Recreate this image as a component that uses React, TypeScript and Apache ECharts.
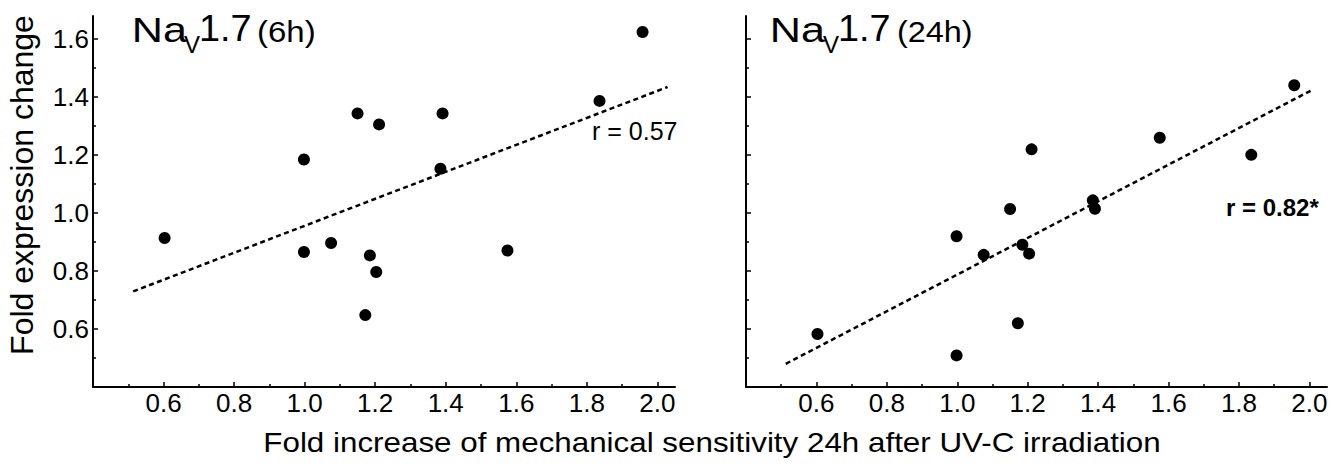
import React, { useEffect, useRef } from "react";
import * as echarts from "echarts";

// ---- data ----
const mechX = [0.603, 0.998, 0.998, 1.075, 1.15, 1.172, 1.185, 1.203, 1.211, 1.385, 1.391, 1.575, 1.836, 1.958];
const expr6h = [0.914, 1.185, 0.866, 0.897, 1.344, 0.648, 0.854, 0.797, 1.306, 1.153, 1.344, 0.871, 1.387, 1.625];
const mechX24 = [0.603, 0.998, 0.998, 1.075, 1.15, 1.172, 1.185, 1.204, 1.211, 1.385, 1.391, 1.575, 1.835, 1.957];
const expr24h = [0.583, 0.92, 0.509, 0.856, 1.014, 0.62, 0.891, 0.86, 1.22, 1.044, 1.015, 1.26, 1.201, 1.441];
const fit6hX = [0.514, 2.029];
const fit6hY = [0.73, 1.435];
const fit24hX = [0.513, 2.008];
const fit24hY = [0.48, 1.425];
const xMajorTicks = [0.4, 0.6, 0.8, 1.0, 1.2, 1.4, 1.6, 1.8, 2.0];
const xMinorTicks = [0.5, 0.7, 0.9, 1.1, 1.3, 1.5, 1.7, 1.9];
const xTickLabels = [0.6, 0.8, 1.0, 1.2, 1.4, 1.6, 1.8, 2.0];
const yMajorTicks = [0.4, 0.6, 0.8, 1.0, 1.2, 1.4, 1.6];
const yMinorTicks = [0.5, 0.7, 0.9, 1.1, 1.3, 1.5];
const yTickLabels = [0.6, 0.8, 1.0, 1.2, 1.4, 1.6];
const rLabel6h = "r = 0.57";
const rLabel24h = "r = 0.82*";
const yTitle = "Fold expression change";
const xTitle = "Fold increase of mechanical sensitivity 24h after UV-C irradiation";

const FONT = '"Liberation Sans", Arial, Helvetica, sans-serif';
const X_MIN = 0.4, X_MAX = 2.05, Y_MIN = 0.4, Y_MAX = 1.68;

function pairs(xs: number[], ys: number[]) {
  return xs.map((x, i) => [x, ys[i]]);
}

function xAxes(gridIndex: number) {
  return [
    {
      type: "value", gridIndex, min: X_MIN, max: X_MAX, position: "bottom",
      axisLine: { show: true, onZero: false, lineStyle: { color: "#000", width: 2 } },
      axisTick: { show: true, inside: true, length: 5, customValues: xMajorTicks, lineStyle: { color: "#000", width: 1.5 } },
      axisLabel: { show: true, customValues: xTickLabels, formatter: (v: number) => v.toFixed(1), fontSize: 26, color: "#000", fontFamily: FONT, margin: 3 },
      splitLine: { show: false },
    },
    {
      type: "value", gridIndex, min: X_MIN, max: X_MAX, position: "bottom",
      axisLine: { show: false, onZero: false },
      axisTick: { show: true, inside: true, length: 3, customValues: xMinorTicks, lineStyle: { color: "#000", width: 1.5 } },
      axisLabel: { show: false },
      splitLine: { show: false },
    },
  ];
}

function yAxes(gridIndex: number, showLabels: boolean) {
  return [
    {
      type: "value", gridIndex, min: Y_MIN, max: Y_MAX, position: "left",
      axisLine: { show: true, onZero: false, lineStyle: { color: "#000", width: 2 } },
      axisTick: { show: true, inside: true, length: 5, customValues: yMajorTicks, lineStyle: { color: "#000", width: 1.5 } },
      axisLabel: { show: showLabels, customValues: yTickLabels, formatter: (v: number) => v.toFixed(1), fontSize: 26, color: "#000", fontFamily: FONT, margin: 4 },
      splitLine: { show: false },
    },
    {
      type: "value", gridIndex, min: Y_MIN, max: Y_MAX, position: "left",
      axisLine: { show: false, onZero: false },
      axisTick: { show: true, inside: true, length: 3, customValues: yMinorTicks, lineStyle: { color: "#000", width: 1.5 } },
      axisLabel: { show: false },
      splitLine: { show: false },
    },
  ];
}

function txt(text: string, x: number, baseline: number, fontSize: number, extra: any = {}) {
  const { fontWeight, textAlign, scaleX, rotation } = extra;
  return {
    type: "text",
    x,
    y: extra.centerY !== undefined ? extra.centerY : baseline - 0.3465 * fontSize,
    scaleX: scaleX || 1,
    rotation: rotation || 0,
    silent: true,
    style: {
      text,
      fontSize,
      fontFamily: FONT,
      fontWeight: fontWeight || "normal",
      fill: "#000",
      textAlign: textAlign || "left",
      textVerticalAlign: "middle",
    },
  };
}

export default function App() {
  const ref = useRef<HTMLDivElement>(null);
  useEffect(() => {
    if (!ref.current) return;
    const chart = echarts.init(ref.current, null, { renderer: "svg" });
    const dash = { color: "#000", width: 2.5, type: [5, 3.5] };
    const dot = { color: "#000", opacity: 1 };
    const option: any = {
      animation: false,
      backgroundColor: "#fff",
      textStyle: { fontFamily: FONT },
      grid: [
        { left: 93, top: 16, width: 582, height: 371 },
        { left: 746, top: 16, width: 581, height: 371 },
      ],
      xAxis: [...xAxes(0), ...xAxes(1)],
      yAxis: [...yAxes(0, true), ...yAxes(1, false)],
      series: [
        {
          type: "line", xAxisIndex: 0, yAxisIndex: 0, data: pairs(fit6hX, fit6hY),
          symbol: "none", lineStyle: dash, silent: true, z: 2,
        },
        {
          type: "scatter", xAxisIndex: 0, yAxisIndex: 0, data: pairs(mechX, expr6h),
          symbolSize: 12, itemStyle: dot, z: 3,
        },
        {
          type: "line", xAxisIndex: 2, yAxisIndex: 2, data: pairs(fit24hX, fit24hY),
          symbol: "none", lineStyle: dash, silent: true, z: 2,
        },
        {
          type: "scatter", xAxisIndex: 2, yAxisIndex: 2, data: pairs(mechX24, expr24h),
          symbolSize: 12, itemStyle: dot, z: 3,
        },
      ],
      graphic: [
        // left panel title
        txt("Na", 131.7, 41.7, 36, { scaleX: 1.2 }),
        txt("V", 184, 53, 24),
        txt("1.7", 199, 41.7, 36, { scaleX: 1.05 }),
        txt("(6h)", 257, 42, 30, { scaleX: 1.1 }),
        // right panel title
        txt("Na", 769.7, 41.7, 36, { scaleX: 1.2 }),
        txt("V", 823, 53, 24),
        txt("1.7", 838, 41.7, 36, { scaleX: 1.05 }),
        txt("(24h)", 897, 42, 30, { scaleX: 1.08 }),
        // correlation labels
        txt(rLabel6h, 592, 140, 25),
        txt(rLabel24h, 1226, 216, 24, { fontWeight: "bold" }),
        // axis titles
        txt(xTitle, 712, 452, 28, { textAlign: "center", scaleX: 1.12 }),
        txt(yTitle, 22, 0, 32, { textAlign: "center", rotation: Math.PI / 2, centerY: 185 }),
      ],
    };
    chart.setOption(option);
    return () => chart.dispose();
  }, []);
  return (
    <div
      ref={ref}
      style={{ position: "absolute", left: 0, top: 0, width: 1344, height: 465 }}
    />
  );
}
